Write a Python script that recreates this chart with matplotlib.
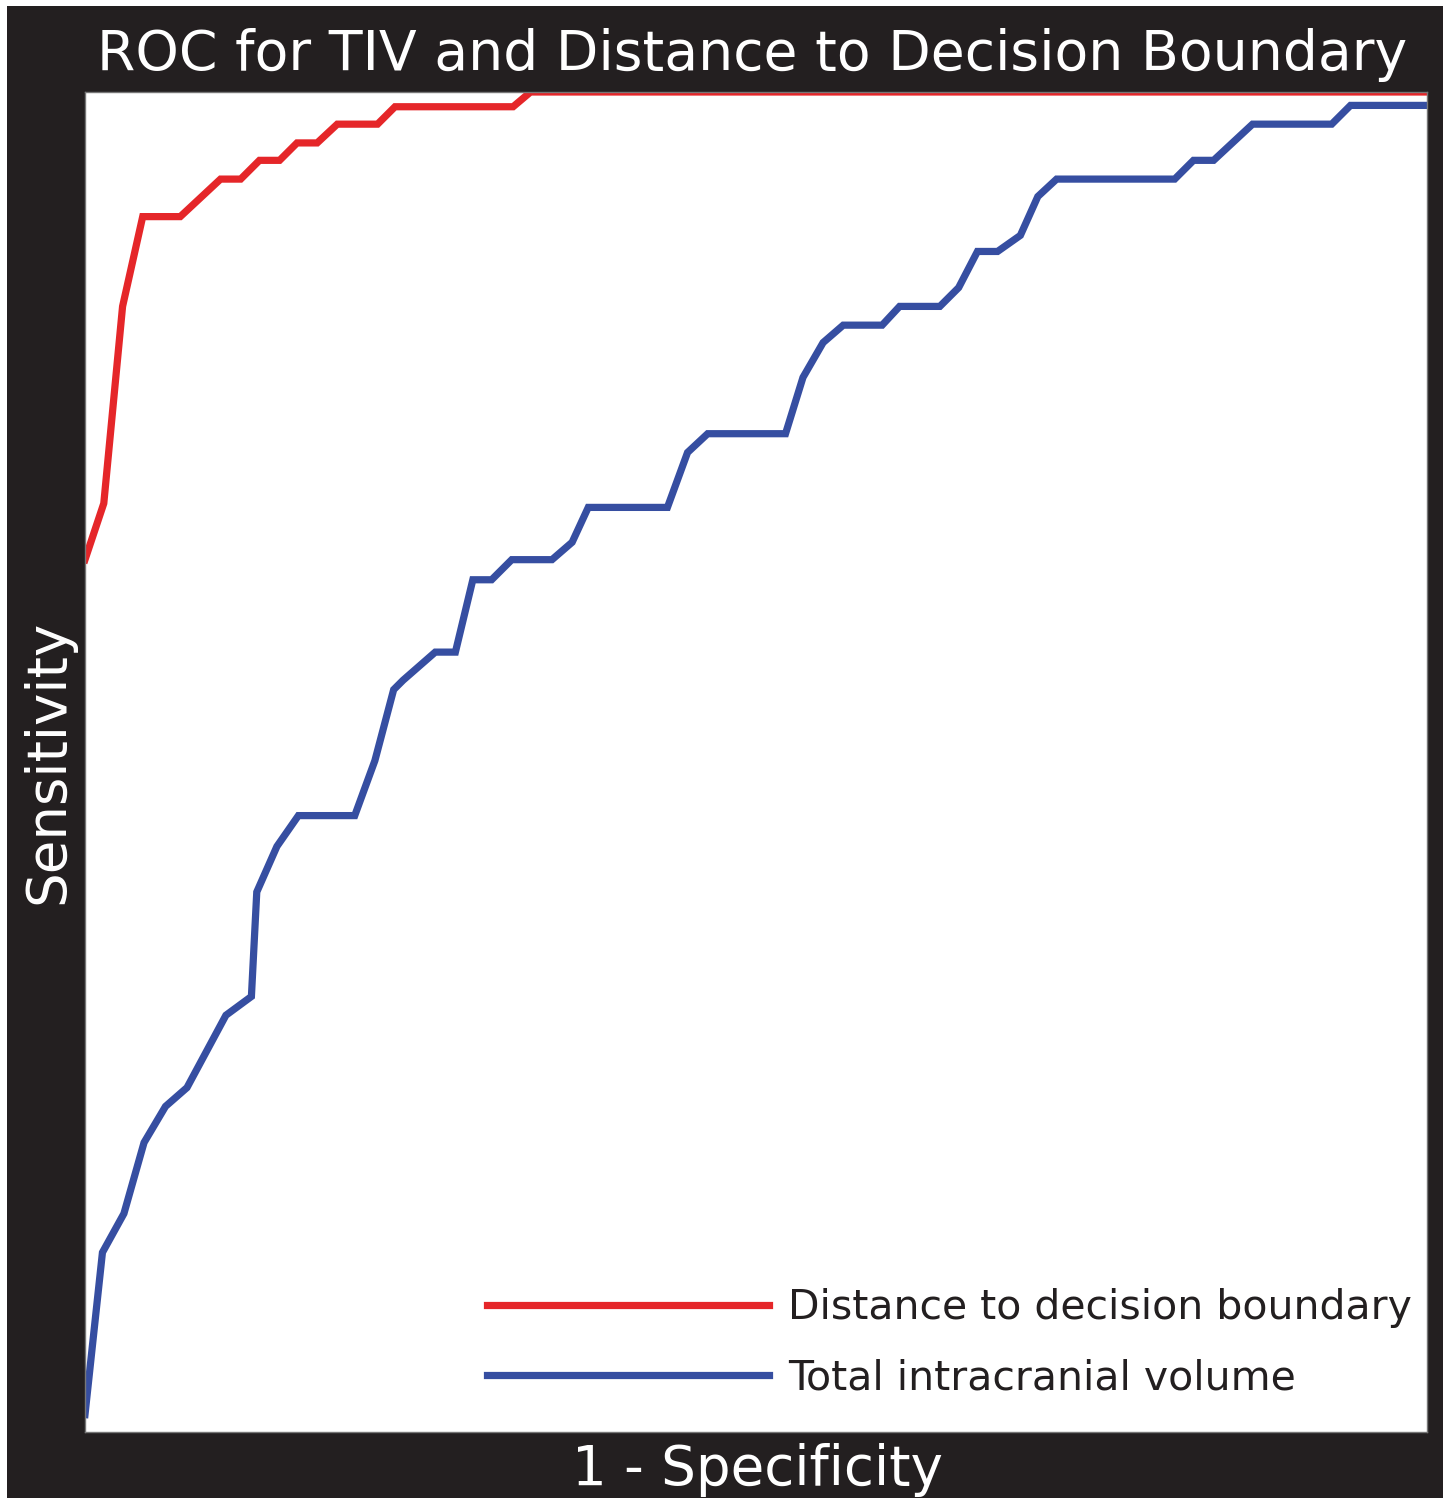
import matplotlib
matplotlib.use('Agg')
import matplotlib.pyplot as plt
from matplotlib.patches import Rectangle

# ROC points (1 - specificity, sensitivity)
dist_fpr = [0.000, 0.014, 0.028, 0.043, 0.071, 0.101, 0.116, 0.130, 0.145, 0.158,
            0.173, 0.188, 0.218, 0.231, 0.319, 0.332, 1.000]
dist_tpr = [0.651, 0.693, 0.840, 0.907, 0.907, 0.935, 0.935, 0.949, 0.949, 0.962,
            0.962, 0.976, 0.976, 0.989, 0.989, 1.000, 1.000]

tiv_fpr = [0.000, 0.013, 0.029, 0.044, 0.060, 0.076, 0.105, 0.124, 0.128, 0.143,
           0.159, 0.201, 0.216, 0.230, 0.237, 0.261, 0.276, 0.289, 0.303, 0.318,
           0.348, 0.363, 0.375, 0.434, 0.449, 0.464, 0.522, 0.535, 0.550, 0.565,
           0.594, 0.607, 0.637, 0.651, 0.665, 0.680, 0.697, 0.710, 0.724, 0.812,
           0.826, 0.841, 0.870, 0.929, 0.943, 1.000]
tiv_tpr = [0.013, 0.134, 0.163, 0.216, 0.243, 0.257, 0.311, 0.325, 0.403, 0.437,
           0.460, 0.460, 0.501, 0.554, 0.561, 0.582, 0.582, 0.636, 0.636, 0.651,
           0.651, 0.664, 0.690, 0.690, 0.731, 0.745, 0.745, 0.787, 0.813, 0.826,
           0.826, 0.840, 0.840, 0.854, 0.881, 0.881, 0.893, 0.922, 0.935, 0.935,
           0.949, 0.949, 0.976, 0.976, 0.990, 0.990]

labels = ['Distance to decision boundary', 'Total intracranial volume']

BLACK = '#231f20'
RED = '#e52629'
BLUE = '#364ea1'
NARROW = ['Liberation Sans Narrow', 'DejaVu Sans']

W, H = 1450, 1498
fig = plt.figure(figsize=(W / 100, H / 100), dpi=100, facecolor='white')
fig.add_artist(Rectangle((7 / W, 0), (1443 - 7) / W, (H - 6) / H,
                         transform=fig.transFigure, facecolor=BLACK,
                         edgecolor='none', zorder=-5))

ax = fig.add_axes([85 / W, (H - 1432) / H, (1427 - 85) / W, (1432 - 92) / H])
ax.set_facecolor('white')
ax.plot(dist_fpr, dist_tpr, color=RED, lw=5.2, solid_joinstyle='miter', label=labels[0])
ax.plot(tiv_fpr, tiv_tpr, color=BLUE, lw=5.2, solid_joinstyle='miter', label=labels[1])
ax.set_xlim(0, 1)
ax.set_ylim(0, 1)
ax.set_xticks([])
ax.set_yticks([])
for s in ax.spines.values():
    s.set_color('#777777')
    s.set_linewidth(1)

title = fig.text(752 / W, 1 - 70 / H, 'ROC for TIV and Distance to Decision Boundary',
                 ha='center', va='baseline', color='white', fontsize=40,
                 family='DejaVu Sans')
ylab = fig.text(63 / W, 1 - 762 / H, 'Sensitivity', rotation=90, rotation_mode='anchor',
                ha='center', va='baseline', color='white', fontsize=40, family=NARROW)
xlab = fig.text(757 / W, 1 - 1485 / H, '1 - Specificity', ha='center', va='baseline',
                color='white', fontsize=40, family=NARROW)


def fit(t, target, vertical=False):
    r = fig.canvas.get_renderer()
    bb = t.get_window_extent(r)
    cur = bb.height if vertical else bb.width
    t.set_fontsize(t.get_fontsize() * target / cur)


fig.canvas.draw()
fit(title, 1307)
fit(ylab, 285, vertical=True)
fit(xlab, 371)

# legend: size the text so the first label spans ~623 px
probe = fig.text(0, 0, labels[0], fontsize=40, family=NARROW)
r = fig.canvas.get_renderer()
fs = 40 * 623 / probe.get_window_extent(r).width
probe.remove()
fs_px = fs * 100 / 72
leg = ax.legend(loc='lower right', bbox_to_anchor=(1412 / W, (H - 1398) / H),
                bbox_transform=fig.transFigure, frameon=False, borderpad=0,
                borderaxespad=0, handlelength=282 / fs_px, handletextpad=19 / fs_px,
                labelspacing=(77 - 1.15 * fs_px) / fs_px,
                prop={'family': NARROW, 'size': fs})
for t in leg.get_texts():
    t.set_color(BLACK)

fig.savefig('out.png', dpi=100, facecolor='white')
plt.close(fig)
